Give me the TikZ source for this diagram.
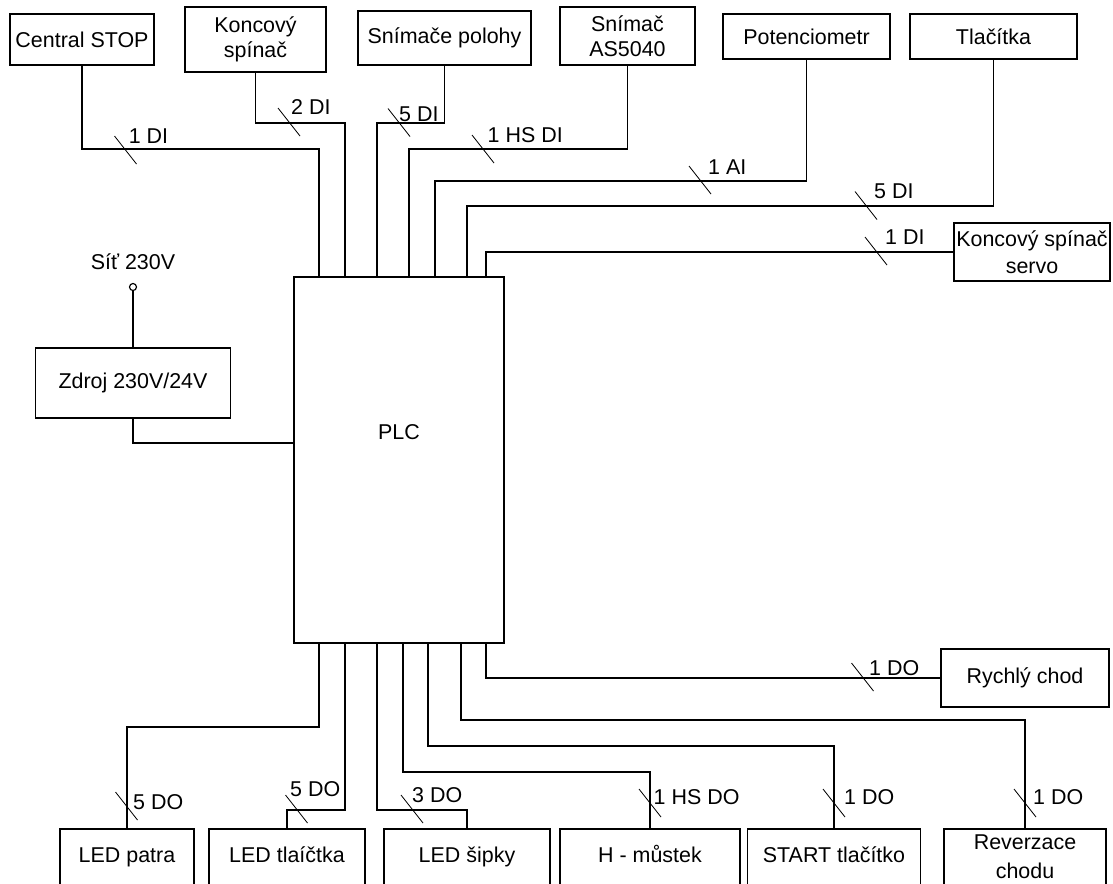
\documentclass[tikz,border=0pt]{standalone}
\usepackage{fontspec}
\setmainfont{Liberation Sans}
\usetikzlibrary{positioning,calc}
\newcommand{\blockfont}{\fontsize{18.3pt}{21.3pt}\selectfont}
\tikzset{
    box/.style={draw, line width=1.3pt, inner sep=0pt, align=center, font=\blockfont},
    outbox/.style={box, minimum height=1.68cm, text height=0.45cm, text depth=0.13cm},
    wire/.style={line width=1.3pt},
    tick/.style={line width=0.7pt},
    sig/.style={anchor=west, inner sep=0pt, font=\blockfont}
}

\begin{document}
\begin{tikzpicture}[x=0.03cm, y=-0.03cm]
        \useasboundingbox (0,0) rectangle (1113,883);
        \clip (0,0) rectangle (1113,883);
        \node[box, minimum width=4.32cm, minimum height=1.53cm] (cstop) at (82,39.5) {Central STOP};
        \node[box, minimum width=4.23cm, minimum height=1.95cm] (kspin) at (255.5,39.5) {Koncový\\spínač};
        \node[box, minimum width=5.19cm, minimum height=1.62cm] (snpol) at (444.5,38) {Snímače polohy};
        \node[box, minimum width=4.05cm, minimum height=1.74cm] (as5040) at (627.5,36) {Snímač\\AS5040};
        \node[box, minimum width=5.01cm, minimum height=1.35cm] (poten) at (806.5,36.5) {Potenciometr};
        \node[box, minimum width=5.01cm, minimum height=1.35cm] (tlac) at (993.5,36.5) {Tlačítka};
        \node[box, minimum width=4.68cm, minimum height=1.74cm] (kservo) at (1032,252) {Koncový spínač\\[0.06cm]servo};
        \node[box, minimum width=6.3cm, minimum height=10.98cm,
              label={[yshift=0.84cm, font=\blockfont]center:PLC}] (plc) at (399,460) {};
        \node[font=\blockfont, inner sep=0pt] (sit) at (133,262) {Síť 230V};
        \node[draw, circle, line width=1pt, fill=white, minimum size=0.21cm, inner sep=0pt] (net) at (133,287) {};
        \node[box, minimum width=5.85cm, minimum height=2.1cm] (zdroj) at (133,383) {Zdroj 230V/24V};
        \node[box, minimum width=5.04cm, minimum height=1.74cm] (rychly) at (1025,678) {Rychlý chod};
        \node[outbox, minimum width=4.02cm] (ledpatra) at (127,857) {LED patra};
        \node[outbox, minimum width=4.68cm] (ledtlac) at (287,857) {LED tlaíčtka};
        \node[outbox, minimum width=4.98cm] (ledsip) at (467,857) {LED šipky};
        \node[outbox, minimum width=5.39cm] (hmust) at (650,857) {H - můstek};
        \node[outbox, minimum width=5.18cm] (start) at (834,857) {START tlačítko};
        \node[box, minimum width=4.86cm, minimum height=1.68cm] (reverz) at (1025,857) {Reverzace\\[0.12cm]chodu};

        \coordinate (i1) at (319,277);
        \coordinate (i2) at (345,277);
        \coordinate (i3) at (377,277);
        \coordinate (i4) at (409,277);
        \coordinate (i5) at (435,277);
        \coordinate (i6) at (467,277);
        \coordinate (i7) at (486,277);
        \coordinate (o1) at (319,643);
        \coordinate (o2) at (345,643);
        \coordinate (o3) at (377,643);
        \coordinate (o4) at (403,643);
        \coordinate (o5) at (428,643);
        \coordinate (o6) at (461,643);
        \coordinate (o7) at (486,643);

        \draw[wire] (cstop.south) |- (i1 |- 0,149) -- (i1);
        \draw[wire] (kspin.south) |- (i2 |- 0,123) -- (i2);
        \draw[wire] (snpol.south) |- (i3 |- 0,123) -- (i3);
        \draw[wire] (as5040.south) |- (i4 |- 0,149) -- (i4);
        \draw[wire] (poten.south) |- (i5 |- 0,181) -- (i5);
        \draw[wire] (tlac.south) |- (i6 |- 0,206) -- (i6);
        \draw[wire] (kservo.west) -| (i7);
        \draw[wire] (net) -- (zdroj);
        \draw[wire] (zdroj.south) |- (plc.west |- 0,443);
        \draw[wire] (o1) -- (o1 |- 0,727) -| (ledpatra.north);
        \draw[wire] (o2) -- (o2 |- 0,810) -| (ledtlac.north);
        \draw[wire] (o3) -- (o3 |- 0,810) -| (ledsip.north);
        \draw[wire] (o4) -- (o4 |- 0,772) -| (hmust.north);
        \draw[wire] (o5) -- (o5 |- 0,746) -| (start.north);
        \draw[wire] (o6) -- (o6 |- 0,720) -| (reverz.north);
        \draw[wire] (o7) |- (rychly.west);

        \foreach \x/\y in {125.5/150, 289/122, 399/122.5, 483/149, 700/180, 866/205.5, 876/251,
                           126.5/806, 296.5/809, 412/809, 650/803, 834/803, 1025/803, 862.5/677}
            \draw[tick] (\x,\y) ++(-11,-14) -- ++(22,28);

        \node[sig] (n1) at (128.6,136) {1 DI};
        \node[sig] (n2) at (291,107) {2 DI};
        \node[sig] (n3) at (399,114) {5 DI};
        \node[sig] (n4) at (487.5,135) {1 HS DI};
        \node[sig] (n5) at (708,167) {1 AI};
        \node[sig] (n6) at (874,191) {5 DI};
        \node[sig] (n7) at (885,237) {1 DI};
        \node[sig] (n8) at (133,802) {5 DO};
        \node[sig] (n9) at (290,789) {5 DO};
        \node[sig] (n10) at (412,795) {3 DO};
        \node[sig] (n11) at (653.5,797) {1 HS DO};
        \node[sig] (n12) at (844,797) {1 DO};
        \node[sig] (n13) at (1033,797) {1 DO};
        \node[sig] (n14) at (869,668) {1 DO};
    \end{tikzpicture}
\end{document}
